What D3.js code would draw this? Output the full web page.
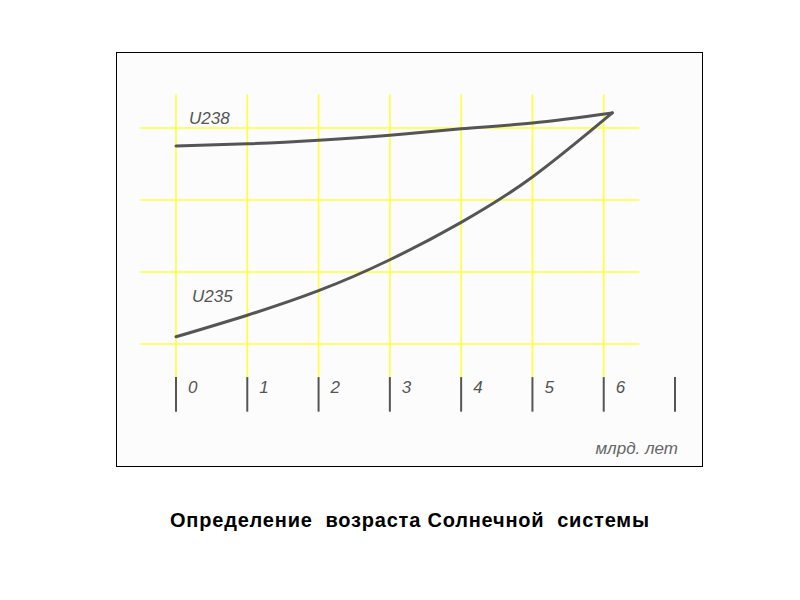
<!DOCTYPE html>
<html><head><meta charset="utf-8">
<script src="https://cdn.jsdelivr.net/npm/d3@7"></script>
<style>body{margin:0;background:#fff}svg{display:block}</style>
</head><body>
<script>
const years = [0, 1, 2, 3, 4, 5, 6.12];
const u238 = [2.75, 2.78, 2.83, 2.90, 2.99, 3.07, 3.21];
const u235 = [0.10, 0.40, 0.74, 1.17, 1.69, 2.32, 3.21];
const tickValues = [0, 1, 2, 3, 4, 5, 6, 7];
const tickLabels = ["0", "1", "2", "3", "4", "5", "6", ""];
const gridX = [0, 1, 2, 3, 4, 5, 6];
const gridY = [0, 1, 2, 3];
const seriesNames = ["U238", "U235"];
const unitLabel = "млрд. лет";
const title = "Определение  возраста Солнечной  системы";

const svg = d3.select("body").append("svg").attr("width", 800).attr("height", 600);
svg.append("rect").attr("x", 116.5).attr("y", 52.5).attr("width", 586).attr("height", 414)
  .attr("fill", "#fbfcfb").attr("stroke", "#000").attr("stroke-width", 1);

const x = d3.scaleLinear().domain([0, 7]).range([176, 675]);
const y = d3.scaleLinear().domain([0, 3]).range([344, 128]);

const grid = svg.append("g").attr("stroke", "#ffff3a").attr("stroke-width", 1.6);
grid.selectAll(".v").data(gridX).join("line")
  .attr("x1", d => x(d)).attr("x2", d => x(d))
  .attr("y1", y(3.47)).attr("y2", y(-0.47));
grid.selectAll(".h").data(gridY).join("line")
  .attr("x1", x(-0.5)).attr("x2", x(6.5))
  .attr("y1", d => y(d)).attr("y2", d => y(d));

const line = d3.line().x((d, i) => x(years[i])).y(d => y(d)).curve(d3.curveNatural);
[u238, u235].forEach(s => {
  svg.append("path").attr("d", line(s)).attr("fill", "none")
    .attr("stroke", "#555").attr("stroke-width", 3).attr("stroke-linecap", "round");
});

const lbl = svg.append("g").attr("fill", "#555").attr("font-family", "Liberation Sans, Arial, sans-serif")
  .attr("font-style", "italic").attr("font-size", 17);
lbl.append("text").attr("x", 189).attr("y", 124).text(seriesNames[0]);
lbl.append("text").attr("x", 192).attr("y", 302).text(seriesNames[1]);

const axis = svg.append("g");
axis.selectAll("line").data(tickValues).join("line")
  .attr("x1", d => x(d)).attr("x2", d => x(d))
  .attr("y1", y(-0.46)).attr("y2", y(-0.94))
  .attr("stroke", "#555").attr("stroke-width", 2);
axis.selectAll("text").data(tickValues).join("text")
  .attr("x", d => x(d) + 12).attr("y", 393)
  .attr("fill", "#555").attr("font-family", "Liberation Sans, Arial, sans-serif")
  .attr("font-style", "italic").attr("font-size", 17)
  .text((d, i) => tickLabels[i]);

svg.append("text").attr("x", 678).attr("y", 454).attr("text-anchor", "end")
  .attr("fill", "#666").attr("font-family", "Liberation Sans, Arial, sans-serif")
  .attr("font-style", "italic").attr("font-size", 17).text(unitLabel);

svg.append("text").attr("x", 170).attr("y", 527)
  .style("white-space", "pre")
  .attr("textLength", 479).attr("lengthAdjust", "spacing")
  .attr("fill", "#000").attr("font-family", "Liberation Sans, Arial, sans-serif")
  .attr("font-weight", "bold").attr("font-size", 20).text(title);
</script>
</body></html>
